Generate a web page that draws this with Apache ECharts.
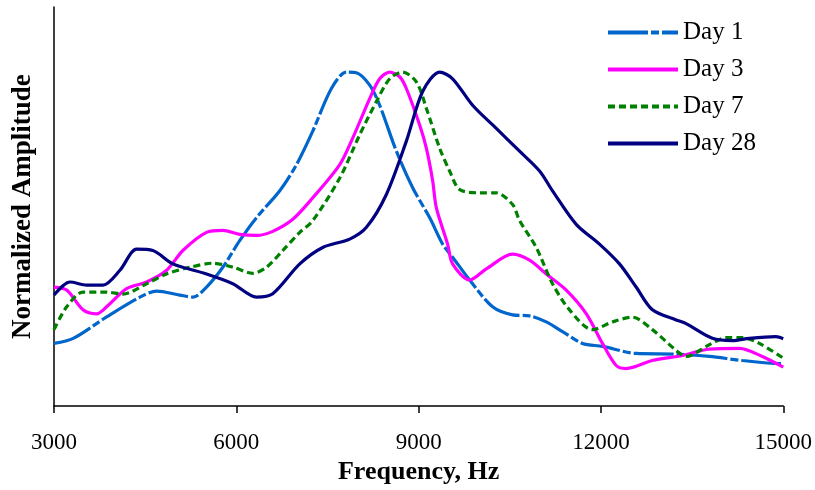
<!DOCTYPE html>
<html>
<head>
<meta charset="utf-8">
<script src="https://cdn.jsdelivr.net/npm/echarts@6/dist/echarts.min.js"></script>
<style>
  html, body { margin: 0; padding: 0; background: #fff; }
  #main { width: 815px; height: 490px; }
</style>
</head>
<body>
<div id="main"></div>
<script>
// [frequency Hz, normalized amplitude]
var day1 = [
  [3000, 0.187], [3317, 0.202], [3866, 0.266], [4414, 0.325], [4688, 0.343],
  [5071, 0.331], [5290, 0.325], [5510, 0.355], [5778, 0.414], [6058, 0.494],
  [6332, 0.562], [6715, 0.642], [6990, 0.720], [7258, 0.820], [7565, 0.947],
  [7812, 0.996], [7976, 0.994], [8195, 0.957], [8359, 0.897], [8634, 0.760],
  [8902, 0.651], [9181, 0.562], [9395, 0.483], [9559, 0.444], [9839, 0.376],
  [10217, 0.296], [10546, 0.272], [10825, 0.269], [11100, 0.251], [11368, 0.222],
  [11697, 0.187], [12025, 0.178], [12579, 0.157], [13237, 0.155], [13784, 0.148],
  [14326, 0.136], [14935, 0.127], [15000, 0.127]
];
var day3 = [
  [3000, 0.355], [3209, 0.346], [3477, 0.287], [3702, 0.275], [3866, 0.296],
  [4195, 0.350], [4524, 0.370], [4853, 0.405], [5121, 0.464], [5510, 0.518],
  [5778, 0.524], [6058, 0.512], [6332, 0.509], [6600, 0.521], [6929, 0.557],
  [7258, 0.621], [7702, 0.720], [7915, 0.799], [8195, 0.917], [8359, 0.976],
  [8524, 0.996], [8688, 0.982], [8798, 0.947], [9017, 0.838], [9127, 0.769],
  [9231, 0.672], [9291, 0.592], [9477, 0.483], [9559, 0.424], [9839, 0.376],
  [10113, 0.409], [10546, 0.453], [10825, 0.435], [11100, 0.394], [11429, 0.346],
  [11757, 0.276], [12025, 0.187], [12251, 0.121], [12415, 0.112], [12847, 0.136],
  [13340, 0.151], [13784, 0.170], [14278, 0.172], [14656, 0.148], [15000, 0.116]
];
var day7 = [
  [3000, 0.228], [3209, 0.296], [3477, 0.340], [3866, 0.340], [4134, 0.334],
  [4524, 0.365], [4853, 0.394], [5236, 0.414], [5614, 0.426], [5943, 0.414],
  [6271, 0.396], [6497, 0.414], [6765, 0.464], [7044, 0.518], [7258, 0.553],
  [7702, 0.680], [8030, 0.809], [8305, 0.908], [8524, 0.976], [8737, 0.996],
  [8962, 0.967], [9127, 0.888], [9346, 0.769], [9510, 0.701], [9674, 0.646],
  [10003, 0.636], [10278, 0.636], [10546, 0.601], [10661, 0.553], [10935, 0.473],
  [11203, 0.365], [11483, 0.287], [11861, 0.228], [12190, 0.251], [12519, 0.265],
  [12847, 0.228], [13258, 0.163], [13401, 0.148], [13784, 0.183], [14059, 0.204],
  [14326, 0.204], [14606, 0.187], [15000, 0.143]
];
var day28 = [
  [3000, 0.331], [3263, 0.370], [3538, 0.361], [3806, 0.361], [4085, 0.405],
  [4360, 0.468], [4627, 0.464], [4956, 0.424], [5510, 0.394], [5943, 0.365],
  [6332, 0.325], [6600, 0.335], [7044, 0.424], [7422, 0.473], [7866, 0.498],
  [8141, 0.533], [8469, 0.631], [8798, 0.790], [9066, 0.938], [9346, 0.996],
  [9559, 0.976], [9888, 0.897], [10278, 0.828], [10661, 0.760], [10990, 0.701],
  [11203, 0.642], [11593, 0.542], [11976, 0.483], [12305, 0.424], [12579, 0.355],
  [12847, 0.287], [13237, 0.257], [13401, 0.246], [13834, 0.202], [14163, 0.195],
  [14442, 0.202], [14880, 0.207], [15000, 0.201]
];
var seriesNames = ["Day 1", "Day 3", "Day 7", "Day 28"];
var xTicks = { min: 3000, max: 15000, step: 3000 };

var font = "Liberation Serif";

function lineSeries(name, data, color, dash) {
  return {
    name: name,
    type: "line",
    data: data,
    smooth: 0.3,
    symbol: "none",
    lineStyle: { color: color, width: 3.2, type: dash },
    itemStyle: { color: color },
  };
}

var myChart = echarts.init(document.getElementById("main"));
myChart.setOption({
  animation: false,
  backgroundColor: "#fff",
  grid: { left: 54, right: 31, top: 7, bottom: 79 },
  legend: {
    orient: "vertical",
    left: 601,
    top: 15,
    itemWidth: 70,
    itemHeight: 14,
    itemGap: 12,
    data: seriesNames,
    itemStyle: { opacity: 0 },
    lineStyle: { width: 4 },
    textStyle: { fontFamily: font, fontSize: 25, color: "#000", lineHeight: 25 },
  },
  xAxis: {
    type: "value",
    min: xTicks.min,
    max: xTicks.max,
    interval: xTicks.step,
    name: "Frequency, Hz",
    nameLocation: "middle",
    nameGap: 48,
    nameTextStyle: { fontFamily: font, fontSize: 26, fontWeight: "bold", color: "#000" },
    axisLine: { lineStyle: { color: "#000", width: 1.5 } },
    axisTick: { inside: false, length: 7, lineStyle: { color: "#000", width: 1.5 } },
    axisLabel: {
      fontFamily: font, fontSize: 23, color: "#000", margin: 25,
      formatter: function (v) { return String(v); },
    },
    splitLine: { show: false },
  },
  yAxis: {
    type: "value",
    min: 0,
    max: 1.19,
    name: "Normalized Amplitude",
    nameLocation: "middle",
    nameRotate: 90,
    nameGap: 17,
    nameTextStyle: { fontFamily: font, fontSize: 27, fontWeight: "bold", color: "#000" },
    axisLine: { show: true, lineStyle: { color: "#000", width: 1.5 } },
    axisTick: { show: false },
    axisLabel: { show: false },
    splitLine: { show: false },
  },
  series: [
    lineSeries(seriesNames[0], day1, "#0066CC", [40, 3, 8, 3]),
    lineSeries(seriesNames[1], day3, "#FF00FF", "solid"),
    lineSeries(seriesNames[2], day7, "#008000", [7, 4]),
    lineSeries(seriesNames[3], day28, "#000080", "solid"),
  ],
});
</script>
</body>
</html>
